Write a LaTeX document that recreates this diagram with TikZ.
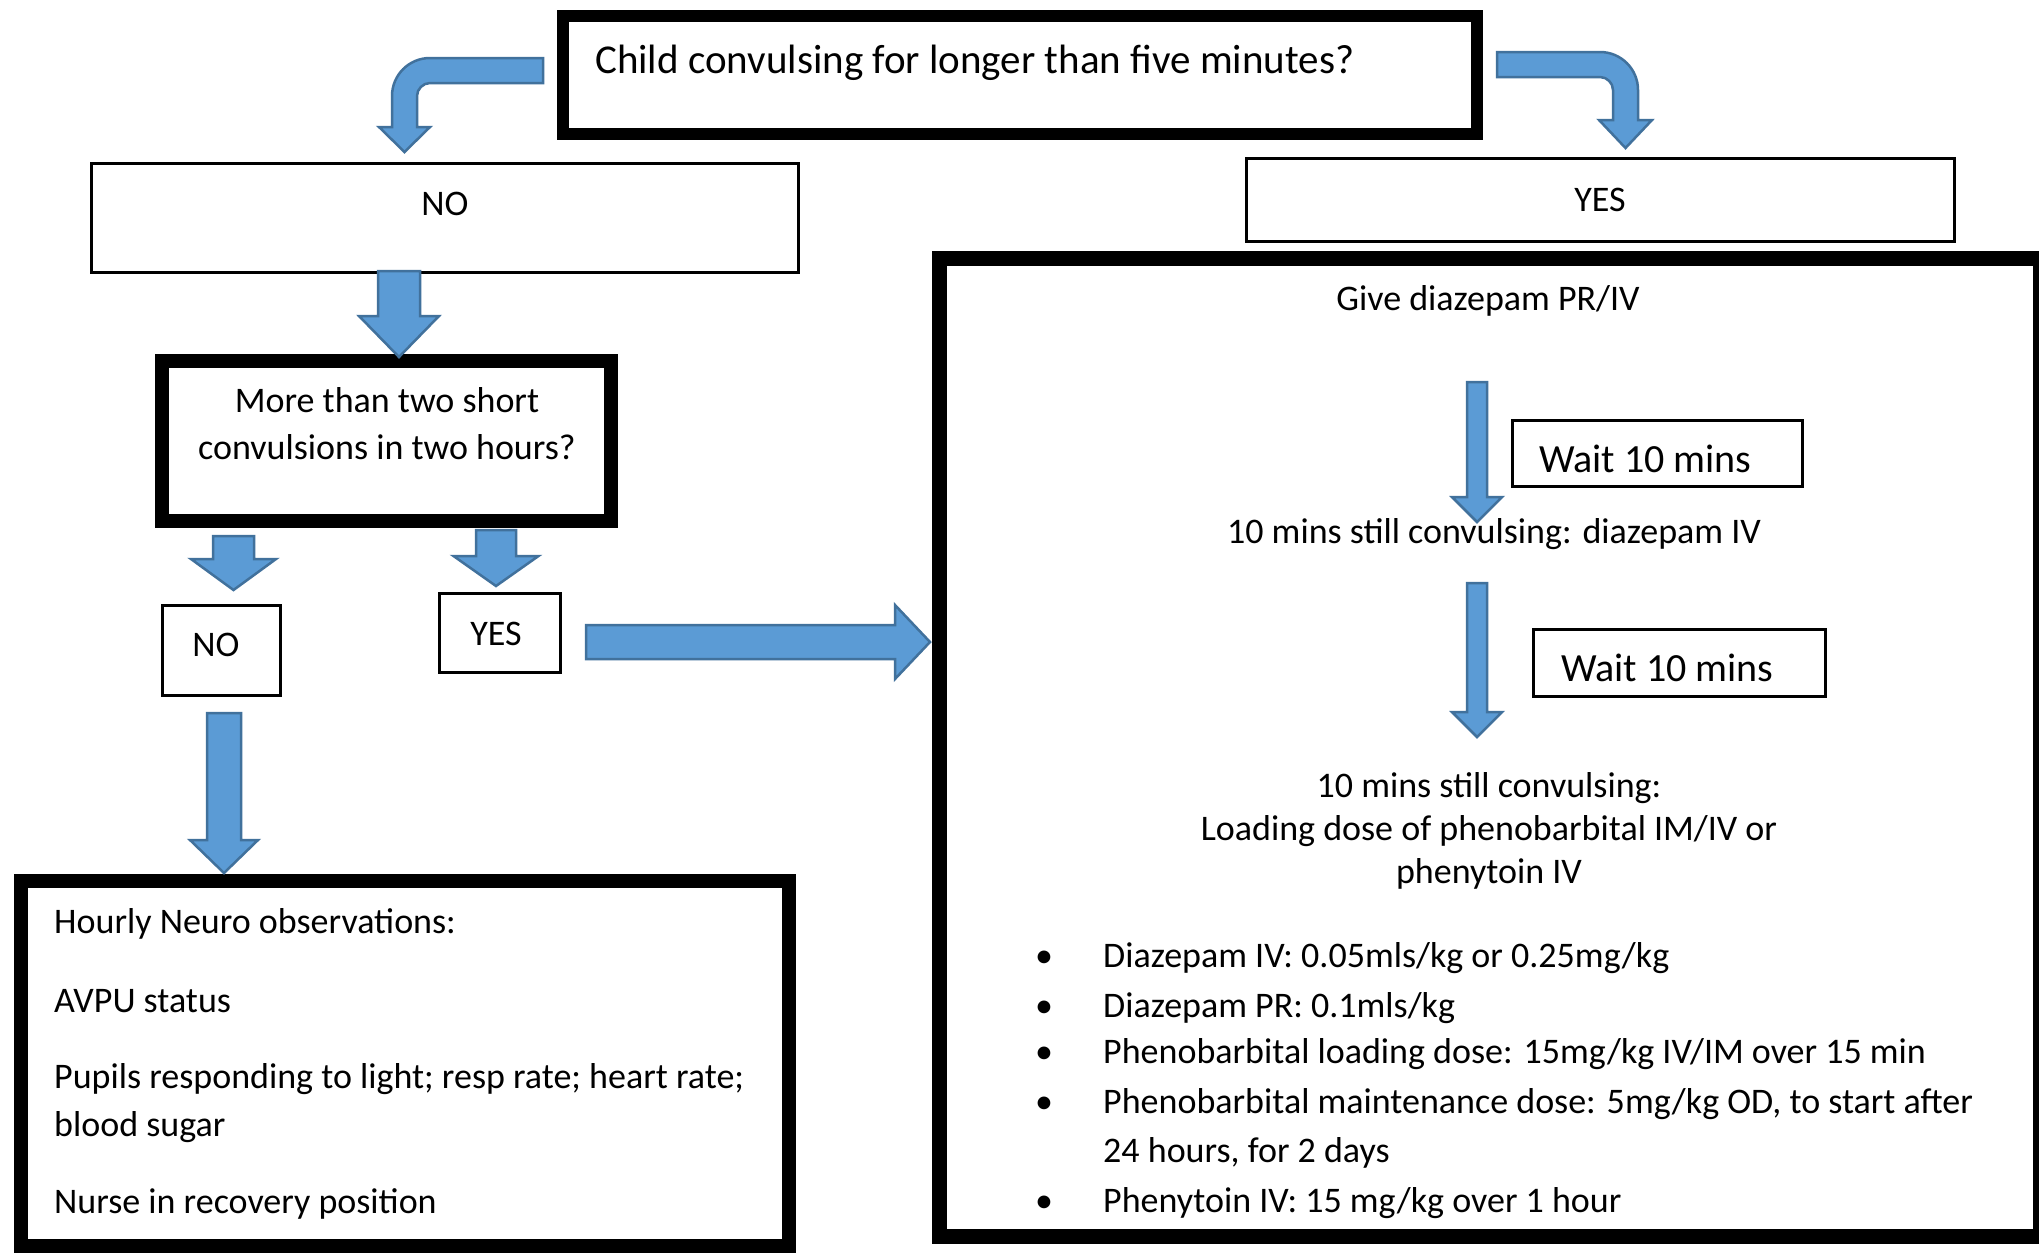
\documentclass[tikz,border=0pt]{standalone}
\usepackage{fontspec}
\setmainfont{Carlito}
\usetikzlibrary{fit}
\definecolor{arrfill}{HTML}{5B9BD5}
\definecolor{arredge}{HTML}{41719C}
\newcommand\blkdown[6]{%
  \draw[blockarr] ({#1-#3},#2) -- ({#1+#3},#2) -- ({#1+#3},#4) -- ({#1+#6},#4) -- (#1,#5) -- ({#1-#6},#4) -- ({#1-#3},#4) -- cycle;}
\begin{document}
\begin{tikzpicture}[x=1pt,y=-1pt,
  thickbox/.style={draw=black, line width=14pt, inner sep=0pt},
  thinbox/.style={draw=black, line width=3pt, inner sep=0pt},
  blockarr/.style={fill=arrfill, draw=arredge, line width=2.5pt, line join=miter},
  txt/.style={inner sep=0pt, font=\fontsize{36}{44}\selectfont},
  bigtxt/.style={inner sep=0pt, font=\fontsize{41}{50}\selectfont},
  waittxt/.style={inner sep=0pt, font=\fontsize{40}{48}\selectfont}]
\fill[white] (0,0) rectangle (2039,1254);
\useasboundingbox (0,0) rectangle (2039,1254);

% boxes
\node[fit={(563,16) (1477,134)}, thickbox, line width=12pt] (top) {};
\node[fit={(91.5,163.5) (798.5,272.5)}, thinbox] (nobig) {};
\node[fit={(1246.5,158.5) (1954.5,241.5)}, thinbox] (yesbig) {};
\node[fit={(162,361) (611,521)}, thickbox] (dec) {};
\node[fit={(162.5,605.5) (280.5,695.5)}, thinbox] (nosmall) {};
\node[fit={(439.5,593.5) (560.5,672.5)}, thinbox] (yessmall) {};
\node[fit={(21,881) (789,1246)}, thickbox] (obs) {};
\node[fit={(939.5,258.5) (2040,1236.5)}, thickbox, line width=15pt] (treat) {};
\node[fit={(1512.5,420.5) (1802.5,486.5)}, thinbox] (wait1) {};
\node[fit={(1533.5,629.5) (1825.5,696.5)}, thinbox] (wait2) {};

% texts
\node[bigtxt, anchor=base west] (ttl) at (595,73) {Child convulsing for longer than five minutes?};
\node[txt, anchor=base] (notxt) at (445,215) {NO};
\node[txt, anchor=base] (yestxt) at (1600,211) {YES};
\node[txt, anchor=base] (dec1) at (387,412) {More than two short};
\node[txt, anchor=base] (dec2) at (387,459) {convulsions in two hours?};
\node[txt, anchor=base] (nos) at (216,656) {NO};
\node[txt, anchor=base] (yess) at (496,645) {YES};

\node[txt, anchor=base west] (o1) at (54,933) {Hourly Neuro observations:};
\node[txt, anchor=base west] (o2) at (54,1012) {AVPU status};
\node[txt, anchor=base west] (o3) at (54,1088) {Pupils responding to light; resp rate; heart rate;};
\node[txt, anchor=base west] (o4) at (54,1136) {blood sugar};
\node[txt, anchor=base west] (o5) at (54,1213) {Nurse in recovery position};

\node[txt, anchor=base] (t1) at (1488,310) {Give diazepam PR/IV};
\node[waittxt, anchor=base west] (w1) at (1539,472) {Wait 10 mins};
\node[txt, anchor=base] (t2) at (1494,543) {10 mins still convulsing: diazepam IV};
\node[waittxt, anchor=base west] (w2) at (1561,681) {Wait 10 mins};
\node[txt, anchor=base] (t3) at (1489,797) {10 mins still convulsing:};
\node[txt, anchor=base] (t4) at (1489,840) {Loading dose of phenobarbital IM/IV or};
\node[txt, anchor=base] (t5) at (1489,883) {phenytoin IV};

\foreach \yy/\nm in {967/b1,1017/b2,1063/b3,1113/b4,1212/b6}
  \node[txt, anchor=base] (\nm) at (1044,\yy) {•};
\node[txt, anchor=base west] (l1) at (1103,967) {Diazepam IV: 0.05mls/kg or 0.25mg/kg};
\node[txt, anchor=base west] (l2) at (1103,1017) {Diazepam PR: 0.1mls/kg};
\node[txt, anchor=base west] (l3) at (1103,1063) {Phenobarbital loading dose: 15mg/kg IV/IM over 15 min};
\node[txt, anchor=base west] (l4) at (1103,1113) {Phenobarbital maintenance dose: 5mg/kg OD, to start after};
\node[txt, anchor=base west] (l5) at (1103,1162) {24 hours, for 2 days};
\node[txt, anchor=base west] (l6) at (1103,1212) {Phenytoin IV: 15 mg/kg over 1 hour};

% curved arrows
\draw[blockarr] (543,58) -- (430,58) .. controls (409,58) and (392,75) .. (392,96)
  -- (392,127) -- (379,127) -- (404.5,152) -- (430,127) -- (417,127) -- (417,96)
  .. controls (417,89) and (423,83) .. (430,83) -- (543,83) -- cycle;
\draw[blockarr] (1497,52) -- (1600,52) .. controls (1621,52) and (1638,69) .. (1638,90)
  -- (1638,120) -- (1652,120) -- (1625.5,148) -- (1599,120) -- (1613,120) -- (1613,90)
  .. controls (1613,83) and (1607,77) .. (1600,77) -- (1497,77) -- cycle;

% straight block arrows
\blkdown{399}{271}{21}{316}{357}{40}
\blkdown{233.5}{536}{20.5}{559}{590}{42.5}
\blkdown{496}{530}{20}{556}{586}{42.5}
\blkdown{224}{713}{17}{840}{873}{34}
\blkdown{1477}{382}{10}{497}{522}{25}
\blkdown{1477}{583}{10}{712}{737}{25}
\draw[blockarr] (586,625) -- (895,625) -- (895,605) -- (930,642) -- (895,679) -- (895,659) -- (586,659) -- cycle;
\end{tikzpicture}
\end{document}
